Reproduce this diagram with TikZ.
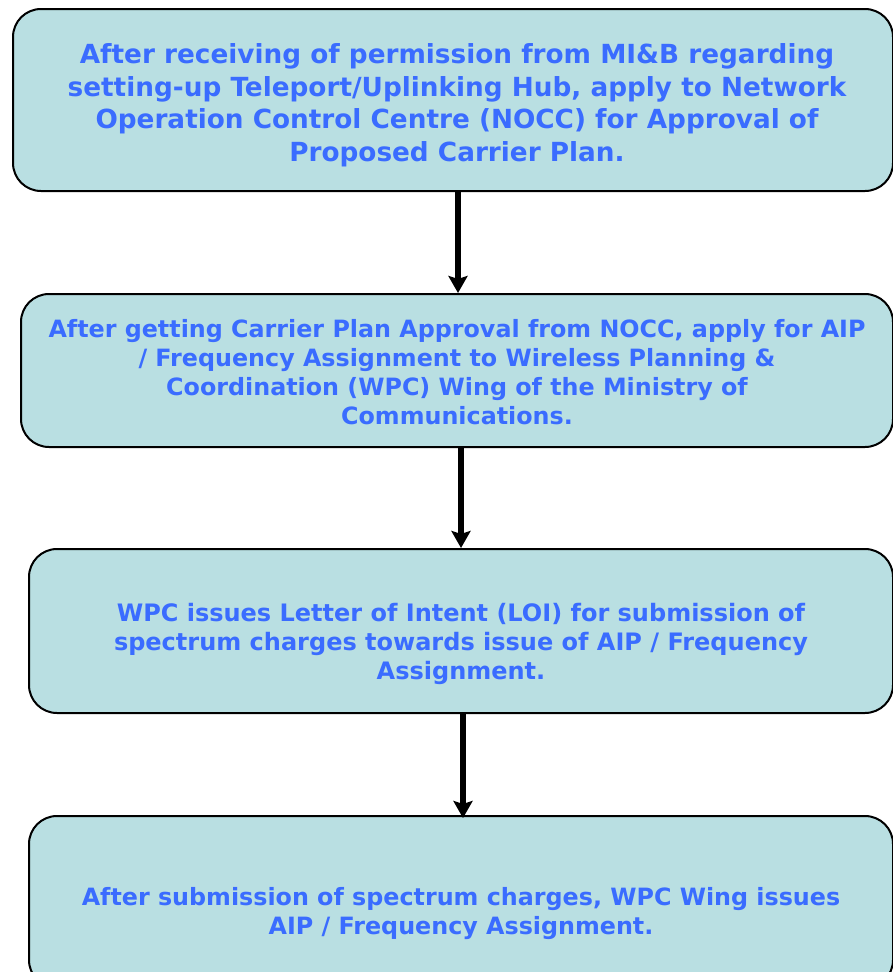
\documentclass[tikz,border=0pt]{standalone}
\usepackage{fontspec}
\setmainfont{DejaVu Sans}
\usetikzlibrary{arrows.meta}
\definecolor{boxfill}{RGB}{185,223,226}
\definecolor{txtblue}{RGB}{58,108,255}
\tikzset{
  flowbox/.style={draw=black, line width=2pt, fill=boxfill, rounded corners=28pt, anchor=north west, inner sep=0pt},
  flowtext/.style={text=txtblue, font=\bfseries, align=center, inner sep=0pt},
  flowarrow/.style={line width=5.5pt, -{Stealth[length=17pt,width=19pt,inset=3pt]}},
}
\begin{document}
\begin{tikzpicture}[x=1pt,y=-1pt]
\useasboundingbox (0,0) rectangle (893,972);
\node[flowbox, minimum width=880pt, minimum height=182pt] (b1) at (12,8) {};
\node[flowbox, minimum width=872pt, minimum height=153pt] (b2) at (20,293) {};
\node[flowbox, minimum width=864pt, minimum height=164pt] (b3) at (28,548) {};
\node[flowbox, minimum width=864pt, minimum height=172pt] (b4) at (28,815) {};

\node[flowtext, font=\fontsize{26.3}{32.5}\selectfont\bfseries] (t1) at (457,105)
  {After receiving of permission from MI\&B regarding\\
   setting-up Teleport/Uplinking Hub, apply to Network\\
   Operation Control Centre (NOCC) for Approval of\\
   Proposed Carrier Plan.};
\node[flowtext, font=\fontsize{23.8}{29}\selectfont\bfseries] (t2) at (457,372)
  {After getting Carrier Plan Approval from NOCC, apply for AIP\\
   / Frequency Assignment to Wireless Planning \&\\
   Coordination (WPC) Wing of the Ministry of\\
   Communications.};
\node[flowtext, font=\fontsize{24}{29}\selectfont\bfseries] (t3) at (461,644)
  {WPC issues Letter of Intent (LOI) for submission of\\
   spectrum charges towards issue of AIP / Frequency\\
   Assignment.};
\node[flowtext, font=\fontsize{23.8}{29}\selectfont\bfseries] (t4) at (461,914)
  {After submission of spectrum charges, WPC Wing issues\\
   AIP / Frequency Assignment.};

\draw[flowarrow] (b1.south -| 458,0) -- (b2.north -| 458,0);
\draw[flowarrow] (b2.south -| 461,0) -- (b3.north -| 461,0);
\draw[flowarrow] (b3.south -| 463,0) -- ([yshift=-3pt]b4.north -| 463,0);
\end{tikzpicture}
\end{document}
